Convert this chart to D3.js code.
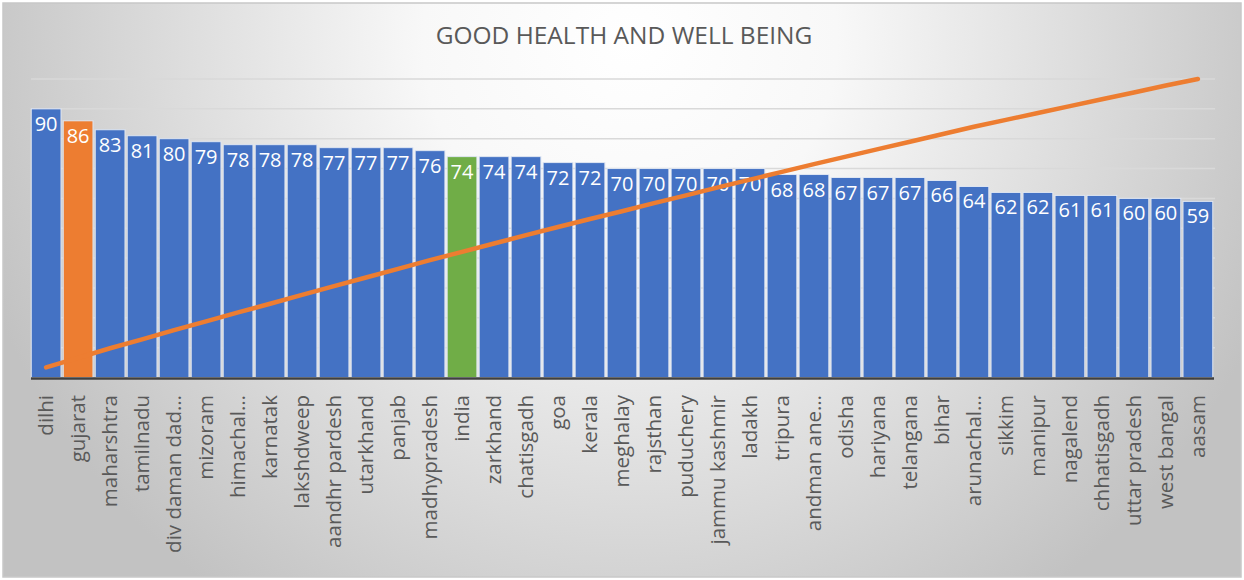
<!DOCTYPE html>
<meta charset="utf-8">
<script src="https://d3js.org/d3.v7.min.js"></script>
<style>
body { margin: 0; background: #fff; }
svg text { font-family: "Open Sans", sans-serif; }
.title { fill: #595959; font-size: 24.5px; text-anchor: middle; }
.cat { fill: #595959; font-size: 20.5px; text-anchor: end; }
.val { fill: #fff; font-size: 20px; text-anchor: middle; }
.grid line { stroke: #d9d9d9; stroke-width: 1.5; }
.line { fill: none; stroke: #ed7d31; stroke-width: 4.5; stroke-linecap: round; stroke-linejoin: round; }
</style>
<body>
<div id="chart"></div>
<script>

// categories (sorted descending, pareto style)
var states = ["dilhi", "gujarat", "maharshtra", "tamilnadu", "div daman dad…", "mizoram", "himachal…",
  "karnatak", "lakshdweep", "aandhr pardesh", "utarkhand", "panjab", "madhypradesh", "india",
  "zarkhand", "chatisgadh", "goa", "kerala", "meghalay", "rajsthan", "puduchery", "jammu kashmir",
  "ladakh", "tripura", "andman ane…", "odisha", "hariyana", "telangana", "bihar", "arunachal…",
  "sikkim", "manipur", "nagalend", "chhatisgadh", "uttar pradesh", "west bangal", "aasam"];

// score per state
var scores = [90, 86, 83, 81, 80, 79, 78, 78, 78, 77, 77, 77, 76, 74, 74, 74, 72, 72, 70, 70,
  70, 70, 70, 68, 68, 67, 67, 67, 66, 64, 62, 62, 61, 61, 60, 60, 59];

// cumulative percentage line
var cumPct = [3.4, 6.6, 9.8, 12.8, 15.9, 18.8, 21.8, 24.7, 27.7, 30.6, 33.5, 36.4, 39.3, 42.1,
  44.9, 47.7, 50.4, 53.1, 55.7, 58.4, 61.0, 63.7, 66.3, 68.9, 71.5, 74.0, 76.5, 79.0, 81.5,
  84.0, 86.3, 88.6, 90.9, 93.2, 95.5, 97.8, 100];

// gridline values
var gridTicks = [10, 20, 30, 40, 50, 60, 70, 80, 90, 100];

// highlighted bars
var highlight = {"gujarat": "#ed7d31", "india": "#70ad47"};

var width = 1244, height = 580;

var svg = d3.select("#chart").append("svg")
    .attr("width", width)
    .attr("height", height);

// background gradient
var defs = svg.append("defs");
var grad = defs.append("radialGradient")
    .attr("id", "bg")
    .attr("gradientUnits", "userSpaceOnUse")
    .attr("cx", 630).attr("cy", 40).attr("r", 690);
grad.append("stop").attr("offset", "0%").attr("stop-color", "#ffffff");
grad.append("stop").attr("offset", "30%").attr("stop-color", "#f8f8f8");
grad.append("stop").attr("offset", "100%").attr("stop-color", "#c2c2c2");

svg.append("rect")
    .attr("x", 3).attr("y", 3)
    .attr("width", 1238).attr("height", 574)
    .attr("fill", "url(#bg)")
    .attr("stroke", "#c8c8c8")
    .attr("stroke-width", 1.5);

svg.append("text")
    .attr("class", "title")
    .attr("x", 624)
    .attr("y", 44)
    .text("GOOD HEALTH AND WELL BEING");

// scales
var x = d3.scaleBand()
    .domain(states)
    .range([29, 1215])
    .paddingInner(0.07)
    .paddingOuter(0.07);

var y = d3.scaleLinear()
    .domain([0, 100])
    .range([377.5, 79]);

// gridlines
svg.append("g")
    .attr("class", "grid")
  .selectAll("line")
    .data(gridTicks)
  .enter().append("line")
    .attr("x1", 31)
    .attr("x2", 1215)
    .attr("y1", function(d) { return y(d); })
    .attr("y2", function(d) { return y(d); });

// bars
svg.selectAll(".bar")
    .data(scores)
  .enter().append("rect")
    .attr("class", "bar")
    .attr("x", function(d, i) { return x(states[i]); })
    .attr("y", function(d) { return y(d); })
    .attr("width", x.bandwidth())
    .attr("height", function(d) { return y(0) - y(d); })
    .attr("fill", function(d, i) { return highlight[states[i]] || "#4472c4"; })
    .attr("stroke", "#dfe6f2")
    .attr("stroke-width", 1);

// value labels
svg.selectAll(".val")
    .data(scores)
  .enter().append("text")
    .attr("class", "val")
    .attr("x", function(d, i) { return x(states[i]) + x.bandwidth() / 2; })
    .attr("y", function(d) { return y(d) + 22; })
    .text(function(d) { return d; });

// x axis baseline
svg.append("line")
    .attr("x1", 31).attr("x2", 1214)
    .attr("y1", y(0) + 1).attr("y2", y(0) + 1)
    .attr("stroke", "#404040")
    .attr("stroke-width", 2.5);

// category labels
svg.selectAll(".cat")
    .data(states)
  .enter().append("text")
    .attr("class", "cat")
    .attr("transform", function(d) {
      return "translate(" + (x(d) + x.bandwidth() / 2) + ",395) rotate(-90)";
    })
    .attr("dy", "0.35em")
    .text(function(d) { return d; });

// cumulative line
var line = d3.line()
    .x(function(d, i) { return x(states[i]) + x.bandwidth() / 2; })
    .y(function(d) { return y(d); });

svg.append("path")
    .datum(cumPct)
    .attr("class", "line")
    .attr("d", line);

</script>
</body>
</html>
